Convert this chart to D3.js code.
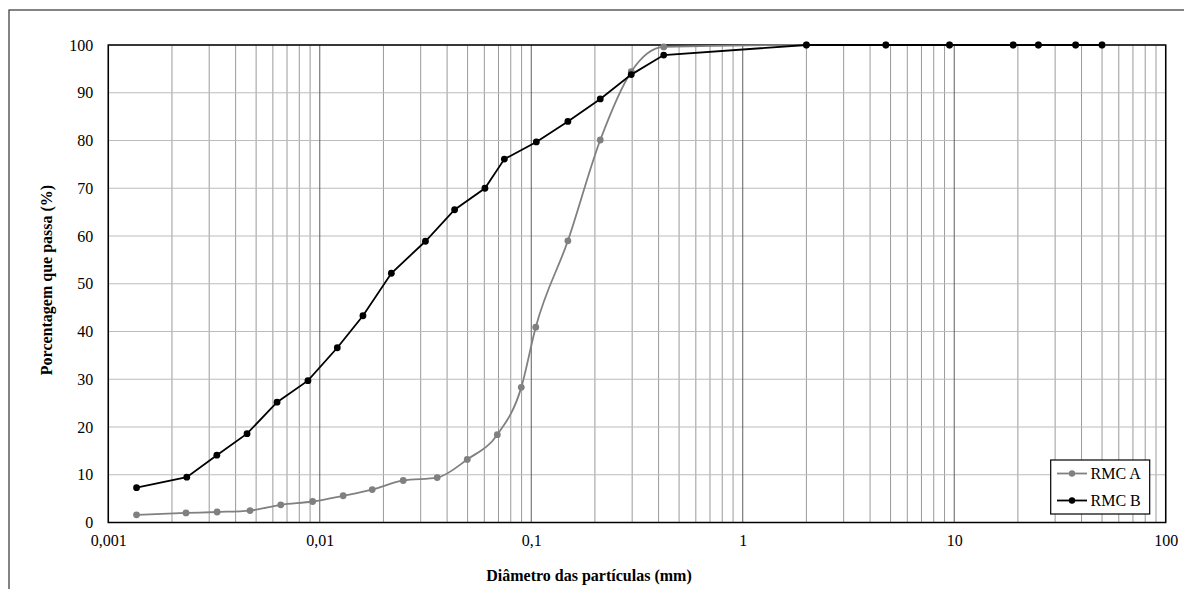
<!DOCTYPE html>
<html><head><meta charset="utf-8">
<script src="https://cdn.jsdelivr.net/npm/d3@7"></script>
<style>html,body{margin:0;padding:0;background:#fff;}svg{display:block;}</style>
</head><body>
<svg id="c" width="1184" height="589"></svg>
<script>
// Data
const diamA = [0.00136,0.00233,0.00327,0.00468,0.00654,0.00925,0.0129,0.0177,0.0248,0.0359,0.0498,0.0691,0.0897,0.105,0.149,0.212,0.297,0.423,2,4.75,9.5,19,25,37.5,50];
const passA = [1.6,2.0,2.2,2.5,3.7,4.4,5.6,6.9,8.8,9.4,13.2,18.4,28.3,40.9,59.0,80.1,94.4,99.6,100,100,100,100,100,100,100];
const diamB = [0.00136,0.00235,0.00326,0.00453,0.00628,0.00879,0.0121,0.0160,0.0218,0.0316,0.0434,0.0604,0.0746,0.1057,0.149,0.212,0.297,0.423,2,4.75,9.5,19,25,37.5,50];
const passB = [7.3,9.5,14.1,18.6,25.2,29.7,36.6,43.3,52.2,58.9,65.5,70.0,76.1,79.7,84.0,88.7,93.8,97.9,100,100,100,100,100,100,100];
const xTicks = [0.001,0.01,0.1,1,10,100];
const xTickLabels = ["0,001","0,01","0,1","1","10","100"];
const yTicks = [0,10,20,30,40,50,60,70,80,90,100];
const seriesNames = ["RMC A","RMC B"];

const svg = d3.select("#c");
const L=108.3, R=1165.7, T=45, B=522.5;
const x = d3.scaleLog().domain([0.001,100]).range([L,R]);
const y = d3.scaleLinear().domain([0,100]).range([B,T]);
const font = "'Liberation Serif','Times New Roman',serif";

// outer frame
svg.append("rect").attr("x",9).attr("y",10).attr("width",1300).attr("height",700)
  .attr("fill","none").attr("stroke","#333").attr("stroke-width",1.2);

// minor vertical grid
const minor=[];
for(let e=-3;e<2;e++){for(let m=2;m<=9;m++){minor.push(m*Math.pow(10,e));}}
svg.append("g").selectAll("line").data(minor).join("line")
  .attr("x1",d=>x(d)).attr("x2",d=>x(d)).attr("y1",T).attr("y2",B)
  .attr("stroke","#9a9a9a").attr("stroke-width",1);
// horizontal grid
svg.append("g").selectAll("line").data(yTicks).join("line")
  .attr("x1",L).attr("x2",R).attr("y1",d=>y(d)).attr("y2",d=>y(d))
  .attr("stroke","#bcbcbc").attr("stroke-width",1.2);
// major vertical grid
svg.append("g").selectAll("line").data(xTicks).join("line")
  .attr("x1",d=>x(d)).attr("x2",d=>x(d)).attr("y1",T).attr("y2",B)
  .attr("stroke","#5e5e5e").attr("stroke-width",1);

// plot border
svg.append("rect").attr("x",L).attr("y",T).attr("width",R-L).attr("height",B-T)
  .attr("fill","none").attr("stroke","#000").attr("stroke-width",1.5);

// axes labels
const yAxis = d3.axisLeft(y).tickValues(yTicks).tickSize(0).tickPadding(15);
const gy = svg.append("g").attr("transform",`translate(${L},0)`).call(yAxis);
gy.select(".domain").remove();
gy.selectAll("text").attr("font-family",font).attr("font-size",16).attr("fill","#000");

const xAxis = d3.axisBottom(x).tickValues(xTicks).tickSize(0).tickPadding(12)
  .tickFormat((d,i)=>xTickLabels[i]);
const gx = svg.append("g").attr("transform",`translate(0,${B})`).call(xAxis);
gx.select(".domain").remove();
gx.selectAll("text").attr("font-family",font).attr("font-size",16).attr("fill","#000");

// series
const ptsA = diamA.map((d,i)=>[d,passA[i]]);
const ptsB = diamB.map((d,i)=>[d,passB[i]]);
const lineSmooth = d3.line().x(d=>x(d[0])).y(d=>y(d[1])).curve(d3.curveMonotoneX);
const lineStraight = d3.line().x(d=>x(d[0])).y(d=>y(d[1]));
const colA="#808080", colB="#000";

svg.append("path").datum(ptsA).attr("d",lineSmooth).attr("fill","none").attr("stroke",colA).attr("stroke-width",1.8);
svg.append("g").selectAll("circle").data(ptsA).join("circle")
  .attr("cx",d=>x(d[0])).attr("cy",d=>y(d[1])).attr("r",3.4).attr("fill",colA);
svg.append("path").datum(ptsB).attr("d",lineStraight).attr("fill","none").attr("stroke",colB).attr("stroke-width",1.8);
svg.append("g").selectAll("circle").data(ptsB).join("circle")
  .attr("cx",d=>x(d[0])).attr("cy",d=>y(d[1])).attr("r",3.4).attr("fill",colB);

// axis titles
svg.append("text").attr("x",589).attr("y",581).attr("text-anchor","middle")
  .attr("font-family",font).attr("font-size",16).attr("font-weight","bold").text("Diâmetro das partículas (mm)");
svg.append("text").attr("transform","translate(52,280) rotate(-90)").attr("text-anchor","middle")
  .attr("font-family",font).attr("font-size",16).attr("font-weight","bold").text("Porcentagem que passa (%)");

// legend
const lg = svg.append("g");
lg.append("rect").attr("x",1050.7).attr("y",460).attr("width",99).attr("height",54)
  .attr("fill","#fff").attr("stroke","#000").attr("stroke-width",1.2);
const legCols=[colA,colB];
seriesNames.forEach((n,i)=>{
  const yy = 473.5 + i*27;
  lg.append("line").attr("x1",1057).attr("x2",1087).attr("y1",yy).attr("y2",yy).attr("stroke",legCols[i]).attr("stroke-width",1.8);
  lg.append("circle").attr("cx",1072).attr("cy",yy).attr("r",3.2).attr("fill",legCols[i]);
  lg.append("text").attr("x",1090.5).attr("y",yy+5).attr("font-family",font).attr("font-size",16).attr("fill","#000").text(n);
});
</script>
</body></html>
